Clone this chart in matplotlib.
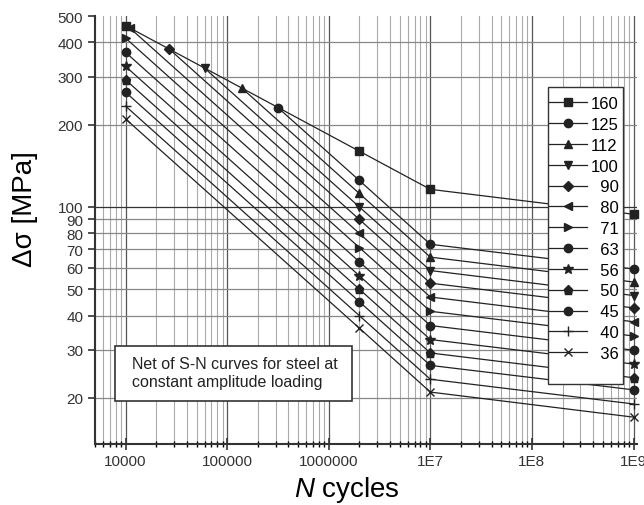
import matplotlib.pyplot as plt
from matplotlib.patches import Rectangle
from matplotlib.ticker import LogLocator, NullFormatter, NullLocator

plt.rcParams['font.family'] = ['Liberation Sans', 'DejaVu Sans']
plt.rcParams['mathtext.fontset'] = 'custom'
plt.rcParams['mathtext.rm'] = 'Liberation Sans'
plt.rcParams['mathtext.it'] = 'Liberation Sans:italic'

# detail categories and the curve points
categories = ['160', '125', '112', '100', '90', '80', '71', '63', '56', '50', '45', '40', '36']
n_start = [1e4, 3.2e5, 1.4e5, 6e4, 2.7e4, 1.1e4, 1e4, 1e4, 1e4, 1e4, 1e4, 1e4, 1e4]
s_start = [461, 230, 272, 322, 378, 452, 415, 368, 327, 292, 263, 234, 210]
s_2e6 = [160, 125, 112, 100, 90, 80, 71, 63, 56, 50, 45, 40, 36]
s_1e7 = [116, 73, 65.5, 58.5, 52.6, 46.8, 41.5, 36.8, 32.7, 29.2, 26.3, 23.4, 21]
s_1e9 = [94, 59.3, 53.1, 47.4, 42.7, 38, 33.7, 29.9, 26.6, 23.7, 21.4, 19, 17]

x_ticks = [1e4, 1e5, 1e6, 1e7, 1e8, 1e9]
x_labels = ['10000', '100000', '1000000', '1E7', '1E8', '1E9']
y_ticks = [20, 30, 40, 50, 60, 70, 80, 90, 100, 200, 300, 400, 500]

markers = ['s', 'o', '^', 'v', 'D', '<', '>', 'o', '*', 'p', 'o', '+', 'x']
sizes = [5.5, 6, 6, 6, 5, 6, 6, 6, 7, 6.5, 6, 7, 6]

fig, ax = plt.subplots(figsize=(6.44, 5.06), dpi=100)
fig.subplots_adjust(left=0.1475, right=0.989, bottom=0.1213, top=0.9664)

handles = []
labels = []
for i, cat in enumerate(categories):
    xs = [n_start[i], 2e6, 1e7, 1e9]
    ys = [s_start[i], s_2e6[i], s_1e7[i], s_1e9[i]]
    line, = ax.plot(xs, ys, color='#222222', lw=0.9, marker=markers[i], ms=sizes[i],
                    mew=1.0, clip_on=False, zorder=3)
    handles.append(line)
    labels.append(cat if len(cat) == 3 else '\u2007' + cat)

ax.set_xscale('log')
ax.set_yscale('log')
ax.set_xlim(5000, 1.08e9)
ax.set_ylim(13.6, 500)

ax.set_xticks(x_ticks)
ax.set_xticklabels(x_labels)
ax.xaxis.set_minor_locator(LogLocator(base=10, subs=range(2, 10), numticks=20))
ax.xaxis.set_minor_formatter(NullFormatter())
ax.set_yticks(y_ticks)
ax.set_yticklabels([str(v) for v in y_ticks])
ax.yaxis.set_minor_locator(NullLocator())

ax.tick_params(axis='both', labelsize=11, labelcolor='#333333', color='#333333')
ax.tick_params(axis='x', which='major', direction='inout', length=8, width=1.2)
ax.tick_params(axis='x', which='minor', direction='inout', length=5, width=1.0)
ax.tick_params(axis='y', direction='out', length=5, width=1.2)

ax.grid(which='major', axis='x', color='#555555', lw=0.9)
ax.grid(which='minor', axis='x', color='#aaaaaa', lw=0.8)
ax.grid(which='major', axis='y', color='#888888', lw=0.9)
for tick in ax.yaxis.get_major_ticks():
    if tick.get_loc() == 100:
        tick.gridline.set_color('#333333')
    if tick.get_loc() == 500:
        tick.gridline.set_visible(False)

for side in ['top', 'right']:
    ax.spines[side].set_visible(False)
for side in ['left', 'bottom']:
    ax.spines[side].set_linewidth(1.5)
    ax.spines[side].set_color('#333333')

ax.set_ylabel('Δσ [MPa]', fontsize=20)
ax.yaxis.set_label_coords(-0.105, 0.551)
ax.set_xlabel('$N$ cycles', fontsize=20)
ax.xaxis.set_label_coords(0.465, -0.072)

# legend frame drawn separately: the original box has extra room below the last entry
frame = Rectangle((548 / 644, 1 - 385 / 506), 75 / 644, 297 / 506,
                  transform=fig.transFigure, facecolor='white', edgecolor='#333333',
                  lw=1.0, zorder=4)
fig.add_artist(frame)
leg = fig.legend(handles, labels, loc='upper right', bbox_to_anchor=(619 / 644, 1 - 97 / 506),
                 borderaxespad=0, borderpad=0, fontsize=12, handlelength=2.25,
                 handletextpad=0.25, labelspacing=0.35, frameon=False)
leg.set_zorder(5)

# note box
box = Rectangle((115 / 644, 1 - 402 / 506), 237 / 644, 55 / 506,
                transform=fig.transFigure, facecolor='white', edgecolor='#333333',
                lw=1.2, zorder=5)
fig.add_artist(box)
fig.text(132 / 644, 1 - 374 / 506, 'Net of S-N curves for steel at\nconstant amplitude loading',
         fontsize=11.5, color='#222222', va='center', ha='left', linespacing=1.25, zorder=6)

fig.savefig('out.png', dpi=100)
